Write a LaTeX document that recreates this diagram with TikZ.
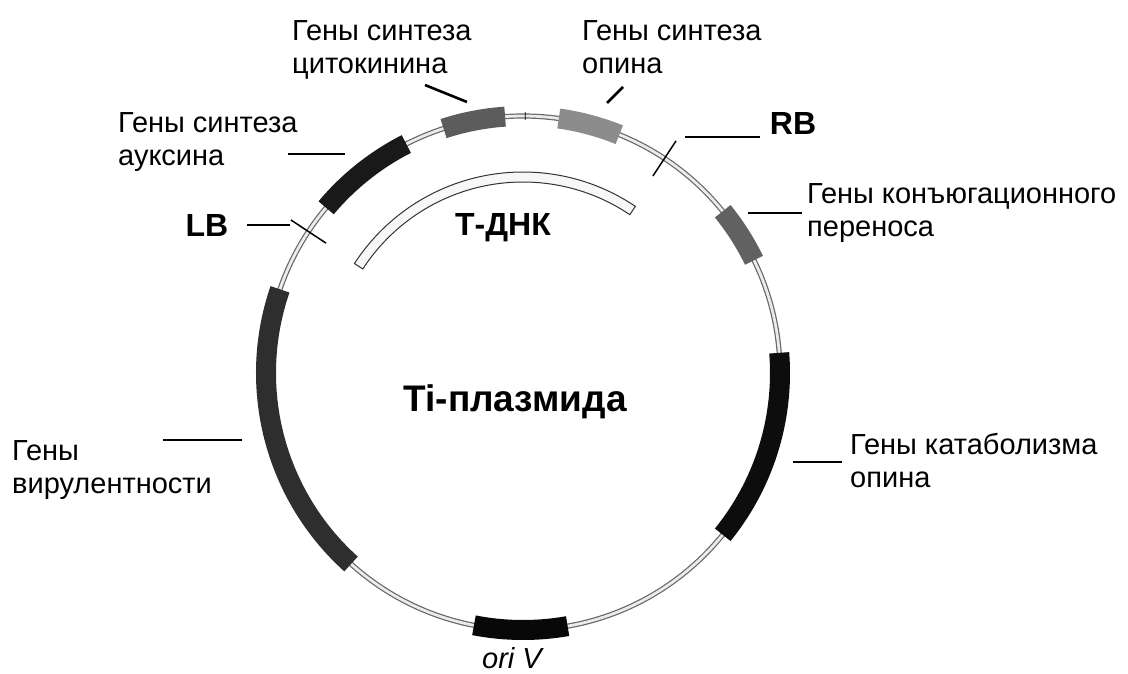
\documentclass[tikz,border=0pt]{standalone}
\usepackage{fontspec}
\setmainfont{Liberation Sans}
\usetikzlibrary{calc}
\begin{document}
\begin{tikzpicture}[x=1pt,y=1pt,
  lbl/.style={font=\fontsize{29}{33}\selectfont, align=left, anchor=north west, inner sep=0pt},
  boldlbl/.style={font=\bfseries\fontsize{32}{36}\selectfont, inner sep=0pt},
  leader/.style={line width=2.6pt, black},
  band/.style={line width=20pt},
  bordertick/.style={line width=1.5pt, black},
  backbone/.style={draw=black!60, double=black!8, double distance=2.8pt, line width=1.2pt}]
\useasboundingbox[fill=white] (0,0) rectangle (1128,-673);
\coordinate (C) at (523,-373);
\def\R{257}
\newcommand\bandarc[3]{\draw[band, draw=#3] ($(C)+(#1:\R)$) arc[start angle=#1, end angle=#2, radius=\R];}
\definecolor{auxc}{gray}{0.10}
\definecolor{cytc}{gray}{0.36}
\definecolor{opsc}{gray}{0.55}
\definecolor{conc}{gray}{0.38}
\definecolor{catc}{gray}{0.05}
\definecolor{virc}{gray}{0.18}
\definecolor{oric}{gray}{0.03}
% backbone
\draw[backbone] (C) circle[radius=\R];
% gene bands
\bandarc{117}{140}{auxc}
\bandarc{94}{108}{cytc}
\bandarc{68}{82}{opsc}
\bandarc{26}{39}{conc}
\bandarc{-39}{4.5}{catc}
\bandarc{161}{228}{virc}
\bandarc{259}{280}{oric}
% small tick at top
\coordinate (st1) at ($(C)+(89.5:253)$);
\coordinate (st2) at ($(C)+(89.5:261)$);
\draw[line width=0.8pt] (st1) -- (st2);
% border ticks
\coordinate (lb1) at ($(C)+(146.6:236)$);
\coordinate (lb2) at ($(C)+(146.6:278)$);
\draw[bordertick] (lb1) -- (lb2);
\coordinate (rb1) at ($(C)+(56.6:236)$);
\coordinate (rb2) at ($(C)+(56.6:278)$);
\draw[bordertick] (rb1) -- (rb2);
% T-DNA arc
\draw[fill=black!3, line width=1pt, draw=black!80]
  ($(C)+(56:201)$) arc[start angle=56, end angle=147, radius=201]
  -- ($(C)+(147:191)$) arc[start angle=147, end angle=56, radius=191] -- cycle;
% labels
\node[lbl] (cyt) at (292,-20) {Гены синтеза\\цитокинина};
\node[lbl] (aux) at (118,-112) {Гены синтеза\\ауксина};
\node[lbl] (ops) at (582,-20) {Гены синтеза\\опина};
\node[lbl] (con) at (807,-183) {Гены конъюгационного\\переноса};
\node[lbl] (cat) at (850,-433) {Гены катаболизма\\опина};
\node[lbl] (vir) at (12,-440) {Гены\\вирулентности};
\node[font=\itshape\fontsize{29}{33}\selectfont, inner sep=0pt] (ori) at (512,-658) {ori V};
\node[boldlbl] (LB) at (207,-225) {LB};
\node[boldlbl] (RB) at (793,-123) {RB};
\node[boldlbl] (tdna) at (503,-228) {Т-ДНК};
\node[font=\bfseries\fontsize{37}{40}\selectfont, inner sep=0pt] (ti) at (515,-402) {Ti-плазмида};
% leader lines
\coordinate (l1a) at (247,-225); \coordinate (l1b) at (290,-225);
\draw[leader] (l1a) -- (l1b);
\coordinate (l2a) at (685,-137); \coordinate (l2b) at (760,-137);
\draw[leader] (l2a) -- (l2b);
\coordinate (l3a) at (288,-154); \coordinate (l3b) at (345,-154);
\draw[leader] (l3a) -- (l3b);
\coordinate (l4a) at (425,-85); \coordinate (l4b) at (467,-102);
\draw[leader] (l4a) -- (l4b);
\coordinate (l5a) at (623,-87); \coordinate (l5b) at (607,-103);
\draw[leader] (l5a) -- (l5b);
\coordinate (l6a) at (748,-213); \coordinate (l6b) at (802,-213);
\draw[leader] (l6a) -- (l6b);
\coordinate (l7a) at (793,-462); \coordinate (l7b) at (842,-462);
\draw[leader] (l7a) -- (l7b);
\coordinate (l8a) at (163,-440); \coordinate (l8b) at (242,-440);
\draw[leader] (l8a) -- (l8b);
\end{tikzpicture}
\end{document}
